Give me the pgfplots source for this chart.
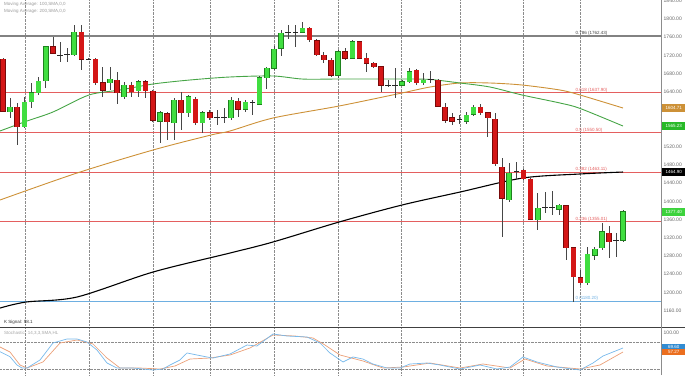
\documentclass[border=0pt]{standalone}
\usepackage{fontspec}
\setmainfont{Liberation Sans}
\usepackage{pgfplots}
\usepackage{pgfplotstable}
\pgfplotsset{compat=1.18}

\definecolor{cgFill}{RGB}{64,222,64}
\definecolor{cgEdge}{RGB}{30,130,30}
\definecolor{crFill}{RGB}{212,22,22}
\definecolor{crEdge}{RGB}{120,10,10}
\definecolor{wick}{RGB}{70,70,70}
\definecolor{maGreen}{RGB}{70,165,70}
\definecolor{maOrange}{RGB}{205,145,55}
\definecolor{fibRed}{RGB}{228,95,95}
\definecolor{fibGray}{RGB}{130,130,130}
\definecolor{fibBlue}{RGB}{110,175,225}
\definecolor{stBlue}{RGB}{120,185,235}
\definecolor{stOrange}{RGB}{235,160,120}
\definecolor{boxGreen}{RGB}{40,185,40}
\definecolor{boxLime}{RGB}{60,210,60}
\definecolor{boxBlue}{RGB}{50,140,210}
\definecolor{boxOrange}{RGB}{235,110,30}

\pgfplotstableread{
i o h l c
2 1596 1627 1583 1607
4 1563 1629 1561 1618
5 1618 1660 1605 1638
6 1638 1673 1633 1664
7 1664 1741 1649 1739
11 1721 1787 1719 1771
16 1660 1695 1644 1668
18 1629 1662 1625 1655
20 1642 1666 1629 1662
23 1576 1598 1528 1594
25 1572 1627 1535 1622
27 1594 1633 1585 1629
29 1572 1598 1550 1594
33 1583 1629 1578 1622
35 1602 1622 1596 1618
37 1613 1676 1611 1671
38 1671 1695 1646 1692
39 1692 1741 1688 1734
40 1736 1776 1719 1769
43 1771 1793 1769 1780
48 1677 1732 1670 1728
50 1714 1754 1712 1750
57 1655 1666 1653 1662
58 1662 1692 1660 1684
60 1660 1682 1655 1666
66 1576 1596 1570 1589
67 1591 1611 1587 1607
72 1403 1484 1398 1462
76 1359 1418 1337 1385
79 1383 1394 1370 1392
83 1221 1300 1216 1284
84 1282 1300 1271 1295
85 1298 1352 1293 1333
88 1315 1381 1311 1377
}\greenT

\pgfplotstableread{
i o h l c
1 1712 1714 1596 1598
3 1607 1616 1524 1563
8 1739 1760 1723 1725
12 1771 1787 1688 1712
14 1712 1714 1655 1660
15 1660 1695 1629 1644
17 1666 1684 1614 1638
19 1655 1662 1629 1640
21 1662 1666 1627 1642
22 1642 1644 1574 1578
24 1592 1596 1535 1574
26 1622 1640 1556 1594
28 1624 1629 1567 1572
30 1594 1600 1578 1583
34 1620 1627 1585 1602
44 1780 1782 1749 1754
45 1752 1756 1719 1721
46 1721 1728 1703 1710
47 1710 1714 1673 1677
49 1728 1736 1710 1714
51 1750 1752 1712 1714
52 1714 1725 1684 1703
53 1703 1706 1692 1695
54 1695 1697 1640 1655
59 1688 1690 1655 1660
62 1666 1668 1607 1609
63 1607 1616 1572 1578
64 1583 1594 1567 1576
68 1607 1613 1589 1594
69 1594 1596 1541 1583
70 1580 1594 1478 1482
71 1475 1495 1322 1407
74 1468 1470 1447 1449
75 1449 1451 1359 1361
80 1390 1392 1271 1298
81 1298 1300 1179 1234
82 1232 1250 1216 1221
86 1330 1346 1276 1311
}\redT

\pgfplotstableread{
i o h l c
9 1723 1750 1706 1721
10 1721 1736 1706 1722
13 1712 1714 1710 1711
31 1585 1600 1567 1585
32 1585 1605 1572 1585
36 1616 1622 1589 1616
41 1771 1787 1756 1771
42 1771 1787 1739 1771
55 1655 1666 1651 1655
56 1655 1692 1627 1655
61 1668 1686 1660 1668
65 1580 1590 1570 1580
73 1466 1486 1447 1466
77 1387 1420 1374 1387
78 1387 1423 1370 1387
87 1315 1330 1278 1315
}\dojiT

\pgfplotsset{
  wickstyle/.style={draw=none, mark=none, forget plot,
    error bars/.cd, y dir=both, y explicit, error mark=none,
    error bar style={draw=wick, line width=0.7pt}},
  bodystyle/.style 2 args={draw=none, mark=none, forget plot,
    error bars/.cd, y dir=both, y explicit, error mark=none,
    error bar style={draw=#1, line width=#2}},
}

\begin{document}
\begin{tikzpicture}
\useasboundingbox (0,0) rectangle (685pt,375pt);
\begin{axis}[
  at={(0pt,48pt)}, anchor=south west, scale only axis,
  width=661.5pt, height=327pt,
  xmin=0.58, xmax=93.36, ymin=1124.3, ymax=1841.7,
  clip=false,
  axis line style={draw=none},
  xtick={4.09,13.06,22.04,30.03,39.0,47.98,56.8,65.1,73.93,81.93},
  xticklabels={}, xmajorgrids,
  major grid style={densely dotted, black!45, line width=0.5pt},
  major tick length=0pt,
  ytick={1160,1200,1240,1280,1320,1360,1400,1440,1480,1520,1640,1680,1720,1760,1800,1840},
  yticklabel pos=right,
  yticklabel style={font=\fontsize{5}{6}\selectfont, text=black!60, anchor=west, inner sep=0pt, xshift=2pt},
  /pgf/number format/assume math mode=true,
  /pgf/number format/.cd, fixed, fixed zerofill, precision=2, 1000 sep={},
]
% Fibonacci levels
\addplot[fibGray, line width=1.8pt, forget plot] coordinates {(0.58,1762.43) (93.36,1762.43)};
\addplot[fibRed, line width=1.1pt, forget plot] coordinates {(0.58,1637.90) (93.36,1637.90)};
\addplot[fibRed, line width=1.1pt, forget plot] coordinates {(0.58,1550.50) (93.36,1550.50)};
\addplot[fibRed, line width=1.1pt, forget plot] coordinates {(0.58,1463.11) (93.36,1463.11)};
\addplot[fibRed, line width=1.1pt, forget plot] coordinates {(0.58,1355.01) (93.36,1355.01)};
\addplot[fibBlue, line width=1.2pt, forget plot] coordinates {(0.58,1180.20) (93.36,1180.20)};

% moving averages
\addplot[black, line width=1.1pt, smooth] coordinates {
(0.58,1165.9) (4.23,1179.1) (11.38,1190.1) (22.04,1244.9) (32.84,1286.6) (38.87,1310.8)
(48.13,1354.6) (56.96,1391.9) (65.1,1420.4) (73.93,1451.2) (81.93,1460.0) (87.96,1464.3)};
\addplot[maOrange, line width=0.9pt, smooth] coordinates {
(0.58,1402.9) (11.38,1462.1) (22.04,1512.6) (30.17,1545.5) (32.84,1554.3) (38.87,1582.8)
(48.13,1609.1) (56.96,1637.7) (60.89,1650.8) (65.1,1659.6) (69.30,1659.6) (73.79,1655.2)
(79.12,1644.2) (81.93,1633.3) (87.96,1604.7)};
\addplot[maGreen, line width=0.9pt, smooth] coordinates {
(0.58,1554.3) (4.37,1576.2) (8.01,1596.0) (13.06,1633.3) (17.41,1644.2) (22.04,1657.4)
(27.23,1666.2) (32.84,1672.8) (38.87,1675.0) (43.08,1668.2) (48.13,1668.4) (53.45,1668.4)
(57.10,1668.4) (60.89,1667.4) (65.1,1659.6) (69.30,1650.8) (73.79,1633.3) (79.12,1615.7)
(81.93,1603.8) (87.96,1565.2)};

% wicks
\addplot[wickstyle] table[x=i, y expr=(\thisrow{h}+\thisrow{l})/2, y error expr=(\thisrow{h}-\thisrow{l})/2] {\greenT};
\addplot[wickstyle] table[x=i, y expr=(\thisrow{h}+\thisrow{l})/2, y error expr=(\thisrow{h}-\thisrow{l})/2] {\redT};
\addplot[wickstyle] table[x=i, y expr=(\thisrow{h}+\thisrow{l})/2, y error expr=(\thisrow{h}-\thisrow{l})/2] {\dojiT};
% bodies
\addplot[bodystyle={cgEdge}{5.6pt}] table[x=i, y expr=(\thisrow{o}+\thisrow{c})/2, y error expr=abs(\thisrow{c}-\thisrow{o})/2+1.0] {\greenT};
\addplot[bodystyle={cgFill}{4.4pt}] table[x=i, y expr=(\thisrow{o}+\thisrow{c})/2, y error expr=abs(\thisrow{c}-\thisrow{o})/2-0.3] {\greenT};
\addplot[bodystyle={crEdge}{5.6pt}] table[x=i, y expr=(\thisrow{o}+\thisrow{c})/2, y error expr=abs(\thisrow{c}-\thisrow{o})/2+1.0] {\redT};
\addplot[bodystyle={crFill}{4.4pt}] table[x=i, y expr=(\thisrow{o}+\thisrow{c})/2, y error expr=abs(\thisrow{c}-\thisrow{o})/2-0.3] {\redT};
\addplot[only marks, mark=-, mark size=2.8pt, mark options={draw=black!85, line width=0.9pt}, forget plot] table[x=i, y=c] {\dojiT};

% Fibonacci labels
\node[anchor=south west, inner sep=0.5pt, font=\fontsize{4.5}{5}\selectfont, text=black!75] at (axis cs:81.2,1762.43) {0.786 (1762.43)};
\node[anchor=south west, inner sep=0.5pt, font=\fontsize{4.5}{5}\selectfont, text=fibRed] at (axis cs:81.2,1637.90) {0.618 (1637.90)};
\node[anchor=south west, inner sep=0.5pt, font=\fontsize{4.5}{5}\selectfont, text=fibRed] at (axis cs:81.2,1550.50) {0.5 (1550.50)};
\node[anchor=south west, inner sep=0.5pt, font=\fontsize{4.5}{5}\selectfont, text=fibRed] at (axis cs:81.2,1463.11) {0.382 (1463.11)};
\node[anchor=south west, inner sep=0.5pt, font=\fontsize{4.5}{5}\selectfont, text=fibRed] at (axis cs:81.2,1355.01) {0.236 (1355.01)};
\node[anchor=south west, inner sep=0.5pt, font=\fontsize{4.5}{5}\selectfont, text=fibBlue] at (axis cs:81.2,1180.20) {0 (1180.20)};

% value boxes
\node[anchor=west, fill=maOrange, text=white, font=\fontsize{4.5}{5}\selectfont, inner sep=0pt, minimum width=23pt, minimum height=8pt] at (axis cs:93.45,1604.7) {1604.71};
\node[anchor=west, fill=boxGreen, text=white, font=\fontsize{4.5}{5}\selectfont, inner sep=0pt, minimum width=23pt, minimum height=8pt] at (axis cs:93.45,1565.2) {1565.23};
\node[anchor=west, fill=black, text=white, font=\fontsize{4.5}{5}\selectfont, inner sep=0pt, minimum width=23pt, minimum height=8pt] at (axis cs:93.45,1464.9) {1464.90};
\node[anchor=west, fill=boxLime, text=white, font=\fontsize{4.5}{5}\selectfont, inner sep=0pt, minimum width=23pt, minimum height=8pt] at (axis cs:93.45,1377.4) {1377.40};

% texts
\node[anchor=west, inner sep=0pt, font=\fontsize{4.5}{5}\selectfont, text=black!40] at (rel axis cs:0.006,0.988) {Moving Average: 100,SMA,0,0};
\node[anchor=west, inner sep=0pt, font=\fontsize{4.5}{5}\selectfont, text=black!40] at (rel axis cs:0.006,0.966) {Moving Average: 200,SMA,0,0};
\node[anchor=west, inner sep=0pt, font=\fontsize{4.5}{5}\selectfont, text=black!80] at (rel axis cs:0.006,0.013) {K Signal: 58.1};
\end{axis}

\begin{axis}[
  at={(0pt,0pt)}, anchor=south west, scale only axis,
  width=661.5pt, height=48pt,
  xmin=0.58, xmax=93.36, ymin=6.7, ymax=113.3,
  clip=false,
  axis line style={draw=none},
  xtick={4.09,13.06,22.04,30.03,39.0,47.98,56.8,65.1,73.93,81.93},
  xticklabels={}, xmajorgrids,
  ytick={20,80}, yticklabels={}, ymajorgrids,
  major grid style={densely dotted, black!45, line width=0.5pt},
  major tick length=0pt,
  extra y ticks={100}, extra y tick style={grid=none},
  yticklabel pos=right,
  yticklabel style={font=\fontsize{5}{6}\selectfont, text=black!60, anchor=west, inner sep=0pt, xshift=2pt},
  /pgf/number format/assume math mode=true,
  /pgf/number format/.cd, fixed, fixed zerofill, precision=2, 1000 sep={},
]
\addplot[stOrange, line width=0.7pt] coordinates {
(0.58,68.9) (1.98,57.8) (3.38,28.9) (4.37,22.2) (6.61,35.6) (9.0,77.8) (11.38,84.4)
(13.62,75.6) (15.59,44.4) (17.41,22.2) (20.22,22.2) (23.02,20.0) (25.12,26.7) (27.23,42.2)
(30.03,44.4) (32.84,51.1) (35.64,66.7) (38.87,95.6) (41.95,93.3) (44.48,88.9) (46.16,73.3)
(48.27,51.1) (51.49,37.8) (54.30,22.2) (57.10,24.4) (60.89,33.3) (65.1,22.2) (68.32,31.1)
(72.11,22.2) (74.21,42.2) (77.30,26.7) (81.93,20.0) (84.73,28.9) (87.96,57.8)};
\addplot[stBlue, line width=0.7pt] coordinates {
(0.58,58.4) (1.98,47.3) (2.96,28.9) (3.66,22.2) (4.37,22.2) (6.19,40.0) (8.01,77.8)
(9.98,86.7) (11.38,86.7) (12.78,80.0) (14.18,62.2) (15.59,33.3) (16.99,22.2) (19.23,22.2)
(22.04,17.8) (23.44,20.0) (24.42,28.9) (25.82,40.0) (26.81,55.6) (28.21,51.1) (29.61,46.7)
(30.45,44.4) (32.84,53.3) (35.22,73.3) (36.62,71.1) (38.87,97.8) (40.83,93.3) (43.64,91.1)
(45.46,77.8) (46.86,55.6) (48.69,35.6) (50.09,46.7) (51.49,42.2) (52.89,31.1) (54.86,22.2)
(56.68,22.2) (58.08,31.1) (60.47,33.3) (62.29,28.9) (65.1,20.0) (67.90,28.9) (70.28,20.0)
(72.11,24.4) (73.93,46.7) (75.89,35.6) (78.70,24.4) (81.93,17.8) (83.75,33.3) (85.15,48.9)
(86.55,57.8) (87.96,66.7)};
\node[anchor=west, fill=boxBlue, text=white, font=\fontsize{4.5}{5}\selectfont, inner sep=0pt, minimum width=23pt, minimum height=6pt] at (axis cs:93.45,69.6) {69.60};
\node[anchor=west, fill=boxOrange, text=white, font=\fontsize{4.5}{5}\selectfont, inner sep=0pt, minimum width=23pt, minimum height=6pt] at (axis cs:93.45,57.0) {57.27};
\node[anchor=west, inner sep=0pt, font=\fontsize{4.5}{5}\selectfont, text=black!35] at (rel axis cs:0.006,0.875) {Stochastic: 14,3,3,SMA,HL};
\end{axis}
\draw[black!75, line width=0.7pt] (0pt,48pt) -- (685pt,48pt);
\draw[black!45, line width=0.5pt] (661.5pt,0pt) -- (661.5pt,375pt);
\end{tikzpicture}
\end{document}
